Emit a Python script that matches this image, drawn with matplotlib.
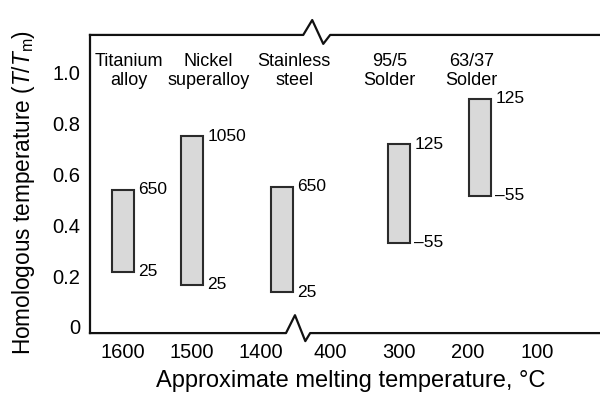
import numpy as np
import matplotlib
matplotlib.use('Agg')
import matplotlib.pyplot as plt
import matplotlib.transforms as mtransforms

plt.rcParams['font.family'] = ['Liberation Sans', 'DejaVu Sans']
plt.rcParams['mathtext.fontset'] = 'custom'
plt.rcParams['mathtext.rm'] = 'Liberation Sans'
plt.rcParams['mathtext.it'] = 'Liberation Sans:italic'

# data
alloys = ['Titanium\nalloy', 'Nickel\nsuperalloy', 'Stainless\nsteel', '95/5\nSolder', '63/37\nSolder']
melt_temp = [1600, 1500, 1370, 300, 183]          # approx. melting temperature, C
homol_low = [0.216, 0.165, 0.137, 0.330, 0.515]    # T/Tm at lowest service temp
homol_high = [0.538, 0.749, 0.550, 0.718, 0.895]   # T/Tm at highest service temp
low_labels = ['25', '25', '25', '\u201355', '\u201355']
high_labels = ['650', '1050', '650', '125', '125']
tick_temps = [1600, 1500, 1400, 400, 300, 200, 100]


def pos(t):
    # broken temperature scale: 1600..1400 then 400..100
    if t >= 1000:
        return (1600 - t) / 100
    return 3 + (400 - t) / 100


fig = plt.figure(figsize=(6, 3.97), dpi=100)
ax = fig.add_axes([0.15, 0.161, 0.85, 0.751])

x = np.array([pos(t) for t in melt_temp])
low = np.array(homol_low)
high = np.array(homol_high)
w = 0.32

ax.bar(x, high - low, bottom=low, width=w, color='#d9d9d9',
       edgecolor='#2b2b2b', linewidth=1.5, zorder=3)

# range labels beside each bar
for xi, lo, hi, ll, hl in zip(x, low, high, low_labels, high_labels):
    ax.annotate(hl, (xi + w / 2, hi), xytext=(3, 0), textcoords='offset points',
                va='center', ha='left', fontsize=12.5)
    ax.annotate(ll, (xi + w / 2, lo), xytext=(3, 0), textcoords='offset points',
                va='center', ha='left', fontsize=12.5)

# category names along the top
name_shift = [0.08, 0.24, 0.18, -0.14, -0.12]
for xi, name, dx in zip(x, alloys, name_shift):
    ax.text(xi + dx, 1.005, name, ha='center', va='center', fontsize=13,
            linespacing=1.2, multialignment='center')

ax.set_xlim(-0.48, 6.91)
ax.set_ylim(-0.024, 1.146)
ax.set_xticks([pos(t) for t in tick_temps])
ax.set_xticklabels([str(t) for t in tick_temps])
ax.set_yticks([0, 0.2, 0.4, 0.6, 0.8, 1.0])
ax.set_yticklabels(['0', '0.2', '0.4', '0.6', '0.8', '1.0'])
ax.tick_params(length=0, labelsize=14.5)
ax.tick_params(axis='y', pad=7)
ax.tick_params(axis='x', pad=7)

ax.set_ylabel(r'Homologous temperature ($T/T_\mathrm{m}$)', fontsize=16.3)
ax.set_xlabel('Approximate melting temperature, \u00b0C', fontsize=17)
ax.yaxis.set_label_coords(-0.104, 0.47)
ax.xaxis.set_label_coords(0.512, -0.125)

# hand-drawn style frame with break marks
for s in ['top', 'bottom', 'right']:
    ax.spines[s].set_visible(False)
ax.spines['left'].set_linewidth(1.6)
ax.spines['left'].set_color('#111111')

trans = mtransforms.blended_transform_factory(ax.transData, ax.transAxes)
# top edge
ax.plot([-0.48, 2.61, 2.74, 2.90, 3.0, 6.91], [1, 1, 1.05, 0.97, 1, 1],
        transform=trans, color='#111111', lw=1.6, clip_on=False)
# bottom edge
ax.plot([-0.48, 2.36, 2.49, 2.64, 2.71, 6.91], [0, 0, 0.06, -0.027, 0, 0],
        transform=trans, color='#111111', lw=1.6, clip_on=False)

plt.savefig('out.png', dpi=100)
